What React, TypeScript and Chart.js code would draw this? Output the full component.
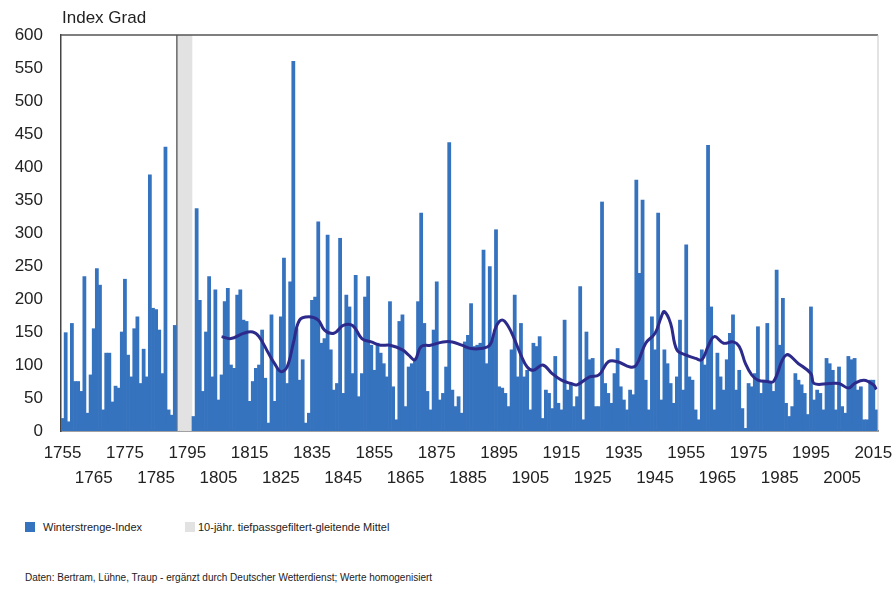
import React, { useEffect, useRef } from 'react';
import { Chart, registerables } from 'chart.js';

Chart.register(...registerables);

// ---- Data -------------------------------------------------------------
const firstYear = 1755;
const lastYear = 2016;
const years: string[] = [];
for (let y = firstYear; y <= lastYear; y++) years.push(String(y));

// Winterstrenge-Index (Index Grad), one value per winter, 1755 .. 2016
const winterIndex: (number | null)[] = [
  // 1755-1764
  19, 149, 14, 163, 75, 75, 60, 234, 27, 85,
  // 1765-1774
  155, 246, 221, 32, 118, 118, 44, 68, 65, 150,
  // 1775-1784
  230, 115, 82, 155, 173, 72, 124, 82, 388, 186,
  // 1785-1794
  184, 153, 87, 430, 32, 24, 160, null, null, null,
  // 1795-1804
  null, null, 22, 337, 198, 60, 150, 234, 82, 214,
  // 1805-1814
  47, 85, 196, 216, 100, 95, 206, 214, 168, 166,
  // 1815-1824
  45, 75, 95, 100, 153, 80, 12, 176, 45, 95,
  // 1825-1834
  173, 262, 72, 226, 560, 155, 77, 108, 12, 27,
  // 1835-1844
  198, 203, 317, 133, 140, 297, 123, 62, 72, 292,
  // 1845-1854
  57, 206, 188, 87, 236, 52, 87, 203, 234, 130,
  // 1855-1864
  92, 133, 118, 102, 82, 196, 67, 17, 166, 176,
  // 1865-1874
  37, 97, 102, 108, 196, 330, 163, 60, 32, 153,
  // 1875-1884
  226, 47, 57, 97, 437, 62, 37, 52, 27, 135,
  // 1885-1894
  145, 193, 128, 130, 133, 274, 102, 249, 138, 305,
  // 1895-1904
  67, 65, 57, 37, 123, 206, 82, 163, 82, 92,
  // 1905-1914
  32, 133, 128, 143, 19, 62, 57, 34, 113, 42,
  // 1915-1924
  32, 168, 62, 72, 37, 52, 219, 17, 150, 108,
  // 1925-1934
  110, 37, 37, 347, 72, 57, 42, 87, 125, 67,
  // 1935-1944
  47, 32, 62, 55, 380, 239, 350, 77, 32, 173,
  // 1945-1954
  123, 330, 47, 123, 102, 72, 42, 82, 168, 62,
  // 1955-1964
  282, 82, 77, 32, 17, 123, 100, 433, 188, 32,
  // 1965-1974
  118, 82, 62, 108, 148, 176, 62, 92, 34, 4,
  // 1975-1984
  72, 67, 87, 158, 57, 77, 163, 72, 60, 244,
  // 1985-1994
  130, 201, 42, 22, 37, 87, 77, 70, 57, 25,
  // 1995-2004
  188, 47, 62, 57, 32, 110, 102, 92, 32, 97,
  // 2005-2014
  37, 27, 113, 108, 110, 62, 67, 17, 17, 77,
  // 2015-2016
  77, 32,
];

// 10-jähr. tiefpassgefiltert-gleitendes Mittel (read points)
const lineYears: number[] = [
  1806, 1809, 1813, 1816, 1818, 1821, 1823, 1825, 1827, 1829, 1831, 1834, 1837,
  1839, 1842, 1845, 1848, 1851, 1854, 1857, 1860, 1864, 1866, 1868, 1870, 1873,
  1877, 1880, 1883, 1886, 1889, 1892, 1894, 1896, 1898, 1900, 1902, 1904, 1906,
  1909, 1912, 1915, 1918, 1920, 1924, 1927, 1930, 1933, 1937, 1939, 1942, 1945,
  1947, 1948, 1950, 1952, 1955, 1958, 1960, 1962, 1964, 1967, 1970, 1972, 1974,
  1976, 1978, 1981, 1983, 1987, 1991, 1995, 1996, 2001, 2004, 2007, 2009, 2012,
  2015, 2016,
];
const lineValues: number[] = [
  143, 140, 148, 150, 143, 118, 102, 90, 97, 133, 168, 173, 168,
  153, 148, 160, 160, 140, 135, 130, 130, 123, 115, 108, 128, 130,
  135, 135, 130, 125, 125, 130, 158, 168, 158, 138, 115, 97, 92,
  100, 87, 77, 72, 70, 82, 85, 105, 105, 97, 100, 133, 148,
  173, 181, 163, 123, 115, 110, 108, 128, 143, 133, 135, 128, 102,
  85, 77, 75, 75, 115, 102, 87, 72, 72, 72, 65, 72, 77,
  70, 63,
];

// Grey band (years without data)
const gapYears: number[] = [1792, 1793, 1794, 1795, 1796];

const yMin = 0;
const yMax = 600;
const yStep = 50;

const legendLabels = ['Winterstrenge-Index', '10-jähr. tiefpassgefiltert-gleitende Mittel'];
const sourceText =
  'Daten: Bertram, Lühne, Traup - ergänzt durch Deutscher Wetterdienst; Werte homogenisiert';
const axisTitle = 'Index Grad';

// ---- Styles -------------------------------------------------------------
const BAR_BLUE = '#3673bf';
const LINE_NAVY = '#2c2a8a';
const BAND_GREY = '#e2e2e2';
const TEXT = '#222222';
const FONT = '"Liberation Sans", Arial, Helvetica, sans-serif';

export default function App() {
  const canvasRef = useRef<HTMLCanvasElement | null>(null);

  useEffect(() => {
    const canvas = canvasRef.current;
    if (!canvas) return;

    const bandData = years.map((y) => (gapYears.includes(Number(y)) ? yMax : null));
    const firstGapIndex = years.indexOf(String(gapYears[0]));
    const linePoints = lineYears.map((y, i) => ({ x: String(y), y: lineValues[i] }));

    const framePlugin = {
      id: 'frame',
      afterDraw(chart: any) {
        const { ctx, chartArea } = chart;
        ctx.save();
        ctx.lineWidth = 1.5;
        ctx.strokeStyle = '#555555';
        ctx.beginPath();
        ctx.moveTo(chartArea.left, chartArea.top);
        ctx.lineTo(chartArea.right, chartArea.top);
        ctx.stroke();
        ctx.strokeStyle = '#c8c8c8';
        ctx.lineWidth = 1;
        ctx.beginPath();
        ctx.moveTo(chartArea.right, chartArea.top);
        ctx.lineTo(chartArea.right, chartArea.bottom);
        ctx.stroke();
        ctx.restore();
      },
    };

    const chart = new Chart(canvas, {
      type: 'bar',
      data: {
        labels: years,
        datasets: [
          {
            type: 'line',
            label: legendLabels[1],
            data: linePoints as any,
            borderColor: LINE_NAVY,
            backgroundColor: LINE_NAVY,
            borderWidth: 3,
            pointRadius: 0,
            tension: 0.4,
            fill: false,
            order: 0,
          } as any,
          {
            type: 'bar',
            label: legendLabels[0],
            data: winterIndex,
            backgroundColor: BAR_BLUE,
            barPercentage: 1,
            categoryPercentage: 1,
            grouped: false,
            borderWidth: 0,
            order: 1,
          } as any,
          {
            type: 'bar',
            label: 'gap',
            data: bandData,
            backgroundColor: BAND_GREY,
            barPercentage: 1,
            categoryPercentage: 1,
            grouped: false,
            borderColor: '#6a6a6a',
            borderSkipped: false,
            borderWidth: (c: any) =>
              c.dataIndex === firstGapIndex ? { left: 2, right: 0, top: 0, bottom: 0 } : 0,
            order: 2,
          } as any,
        ],
      },
      options: {
        animation: false,
        responsive: false,
        devicePixelRatio: 1,
        layout: { padding: { top: 35, right: 15, left: 0, bottom: 0 } },
        plugins: {
          legend: { display: false },
          tooltip: { enabled: false },
          title: { display: false },
        },
        scales: {
          x: {
            offset: true,
            grid: { display: false, drawTicks: false },
            border: { display: true, color: '#444444', width: 1.5 },
            ticks: {
              autoSkip: false,
              maxRotation: 0,
              minRotation: 0,
              padding: 10,
              color: TEXT,
              font: { family: FONT, size: 17, lineHeight: 1.47 },
              callback: (_v: any, idx: number) => {
                const y = firstYear + idx;
                const d = y - firstYear;
                if (d % 20 === 0) return [String(y), ''];
                if (d % 20 === 10) return ['', String(y)];
                return null;
              },
            },
            afterFit: (s: any) => {
              s.height = 69;
              s.paddingLeft = 0;
              s.paddingRight = 0;
            },
          } as any,
          y: {
            min: yMin,
            max: yMax,
            grid: { display: false, drawTicks: false },
            border: { display: true, color: '#444444', width: 1.5 },
            ticks: {
              stepSize: yStep,
              padding: 18,
              color: TEXT,
              font: { family: FONT, size: 17 },
            },
            afterFit: (s: any) => {
              s.width = 61;
              s.paddingTop = 0;
              s.paddingBottom = 0;
            },
          } as any,
        },
      },
      plugins: [framePlugin],
    });

    return () => chart.destroy();
  }, []);

  return (
    <div
      style={{
        position: 'absolute',
        left: 0,
        top: 0,
        width: 893,
        height: 589,
        background: '#ffffff',
        fontFamily: FONT,
        color: TEXT,
        overflow: 'hidden',
      }}
    >
      <canvas
        ref={canvasRef}
        width={893}
        height={500}
        style={{ position: 'absolute', left: 0, top: 0, width: 893, height: 500 }}
      />
      <div style={{ position: 'absolute', left: 62, top: 8, fontSize: 17, lineHeight: '20px' }}>
        {axisTitle}
      </div>
      <div style={{ position: 'absolute', left: 25, top: 522, width: 10, height: 10, background: BAR_BLUE }} />
      <div style={{ position: 'absolute', left: 43, top: 519, fontSize: 11, lineHeight: '16px' }}>
        {legendLabels[0]}
      </div>
      <div style={{ position: 'absolute', left: 185, top: 522, width: 10, height: 10, background: BAND_GREY }} />
      <div style={{ position: 'absolute', left: 198, top: 519, fontSize: 11, lineHeight: '16px' }}>
        {legendLabels[1]}
      </div>
      <div style={{ position: 'absolute', left: 25, top: 571, fontSize: 10, lineHeight: '14px' }}>
        {sourceText}
      </div>
    </div>
  );
}
